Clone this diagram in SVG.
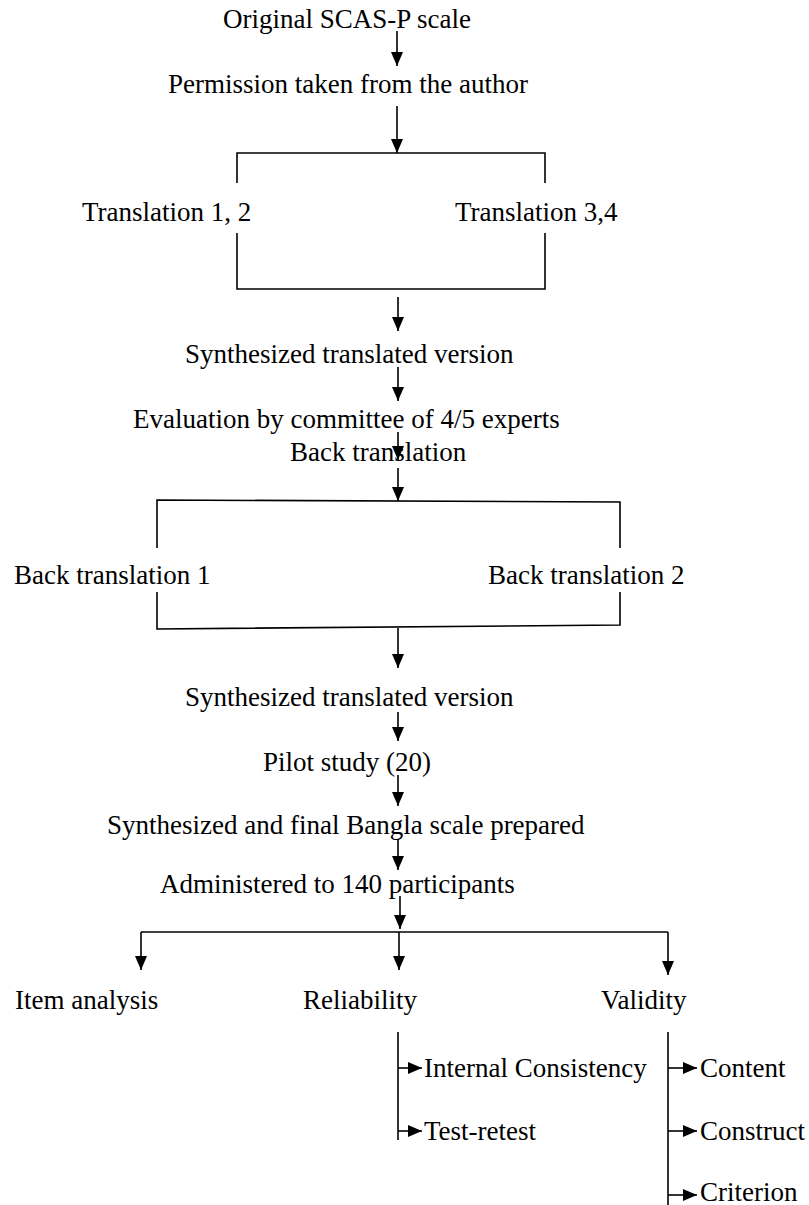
<svg xmlns="http://www.w3.org/2000/svg" width="809" height="1205" viewBox="0 0 809 1205">
<style>
text{font-family:"Liberation Serif","Times New Roman",serif;font-size:27px;fill:#000}
.c line,.c polyline{stroke:#000;stroke-width:1.6;fill:none}
</style>
<defs>
<marker id="ah" markerUnits="userSpaceOnUse" markerWidth="14" markerHeight="12" refX="14" refY="6" orient="auto">
<path d="M0,0 L14,6 L0,12 Z" fill="#000"/>
</marker>
</defs>
<rect width="809" height="1205" fill="#fff"/>
<g class="c" id="connectors">
<line x1="397" y1="31" x2="397" y2="66" marker-end="url(#ah)"/>
<line x1="397" y1="106" x2="397" y2="153" marker-end="url(#ah)"/>
<polyline points="237,183 237,153 545,153 545,183"/>
<polyline points="237,233 237,289 545,289 545,233"/>
<line x1="398" y1="297" x2="398" y2="331" marker-end="url(#ah)"/>
<line x1="398" y1="367" x2="398" y2="401" marker-end="url(#ah)"/>
<line x1="398" y1="432" x2="398" y2="460" marker-end="url(#ah)"/>
<line x1="398" y1="468" x2="398" y2="501" marker-end="url(#ah)"/>
<polyline points="157,548 157,500 620,502 620,548"/>
<polyline points="157,592 157,629 620,625 620,592"/>
<line x1="398" y1="628" x2="398" y2="668" marker-end="url(#ah)"/>
<line x1="398" y1="712" x2="398" y2="741" marker-end="url(#ah)"/>
<line x1="398" y1="775" x2="398" y2="806" marker-end="url(#ah)"/>
<line x1="398" y1="839" x2="398" y2="870" marker-end="url(#ah)"/>
<line x1="400" y1="896" x2="400" y2="929" marker-end="url(#ah)"/>
<line x1="141" y1="932" x2="668" y2="932"/>
<line x1="141" y1="932" x2="141" y2="970" marker-end="url(#ah)"/>
<line x1="399" y1="932" x2="399" y2="970" marker-end="url(#ah)"/>
<line x1="668" y1="932" x2="668" y2="975" marker-end="url(#ah)"/>
<line x1="398" y1="1032" x2="398" y2="1140"/>
<line x1="398" y1="1068" x2="422" y2="1068" marker-end="url(#ah)"/>
<line x1="398" y1="1131" x2="422" y2="1131" marker-end="url(#ah)"/>
<line x1="668" y1="1032" x2="668" y2="1205"/>
<line x1="668" y1="1068" x2="697" y2="1068" marker-end="url(#ah)"/>
<line x1="668" y1="1131" x2="697" y2="1131" marker-end="url(#ah)"/>
<line x1="668" y1="1195" x2="697" y2="1195" marker-end="url(#ah)"/>
</g>
<g id="n-original"><text x="223" y="28">Original SCAS-P scale</text></g>
<g id="n-permission"><text x="168" y="93">Permission taken from the author</text></g>
<g id="n-trans12"><text x="82" y="221">Translation 1, 2</text></g>
<g id="n-trans34"><text x="455" y="221">Translation 3,4</text></g>
<g id="n-synth1"><text x="185" y="363">Synthesized translated version</text></g>
<g id="n-eval"><text x="133" y="428">Evaluation by committee of 4/5 experts</text></g>
<g id="n-back"><text x="290" y="461">Back translation</text></g>
<g id="n-back1"><text x="14" y="584">Back translation 1</text></g>
<g id="n-back2"><text x="488" y="584">Back translation 2</text></g>
<g id="n-synth2"><text x="185" y="706">Synthesized translated version</text></g>
<g id="n-pilot"><text x="263" y="771">Pilot study (20)</text></g>
<g id="n-final"><text x="107" y="834">Synthesized and final Bangla scale prepared</text></g>
<g id="n-admin"><text x="160" y="893">Administered to 140 participants</text></g>
<g id="n-item"><text x="15" y="1009">Item analysis</text></g>
<g id="n-rel"><text x="303" y="1009">Reliability</text></g>
<g id="n-val"><text x="601" y="1009">Validity</text></g>
<g id="n-internal"><text x="424" y="1077">Internal Consistency</text></g>
<g id="n-test"><text x="424" y="1140">Test-retest</text></g>
<g id="n-content"><text x="700" y="1077">Content</text></g>
<g id="n-construct"><text x="700" y="1140">Construct</text></g>
<g id="n-criterion"><text x="700" y="1201">Criterion</text></g>
</svg>
